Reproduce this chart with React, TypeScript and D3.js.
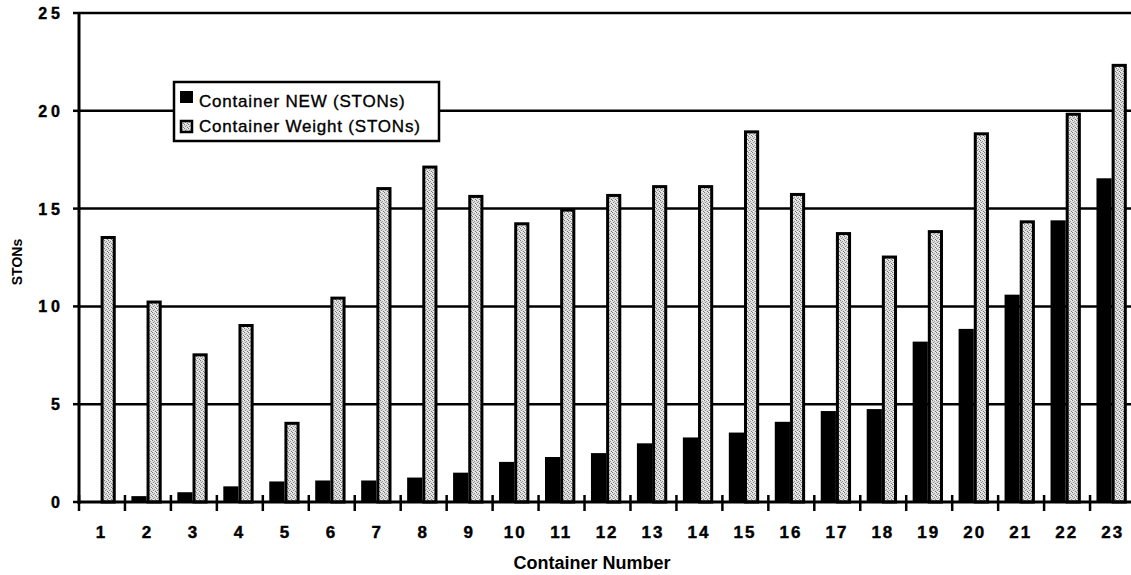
import * as d3 from "d3"

const CONTAINERS = ["1","2","3","4","5","6","7","8","9","10","11","12","13","14","15","16","17","18","19","20","21","22","23"]
const NEW_TONS = [0, 0.3, 0.5, 0.8, 1.05, 1.1, 1.1, 1.25, 1.5, 2.05, 2.3, 2.5, 3.0, 3.3, 3.55, 4.1, 4.65, 4.75, 8.2, 8.85, 10.6, 14.4, 16.55]
const WEIGHT_TONS = [13.6, 10.3, 7.6, 9.1, 4.1, 10.5, 16.1, 17.2, 15.7, 14.3, 15.0, 15.75, 16.2, 16.2, 19.0, 15.8, 13.8, 12.6, 13.9, 18.9, 14.4, 19.9, 22.4]
const SERIES = ["new", "weight"]
const Y_TICKS = [0, 5, 10, 15, 20, 25]

const W = 1131
const H = 575
const AXIS_X = 79
const PLOT_R = 1136
const Y0 = 502
const Y25 = 13

const FONT = "'Liberation Sans', Arial, Helvetica, sans-serif"

export default function App() {
  const x0 = d3.scaleBand<string>().domain(CONTAINERS).range([AXIS_X, PLOT_R]).paddingInner(0).paddingOuter(0)
  const bw = x0.bandwidth()
  const x1 = d3.scaleBand<string>().domain(SERIES).range([bw * 0.14, bw * 0.8])
  const y = d3.scaleLinear().domain([0, 25]).range([Y0, Y25])

  const pairMid = (c: string) => x0(c)! + bw * 0.47

  return (
    <svg
      width={W}
      height={H}
      style={{ position: "absolute", left: 0, top: 0, background: "#fff" }}
      fontFamily={FONT}
    >
      <defs>
        <pattern id="stipple" width="4" height="4" patternUnits="userSpaceOnUse">
          <rect width="4" height="4" fill="#dcdcdc" />
          <rect x="0" y="0" width="1" height="1" fill="#777" />
          <rect x="2" y="1" width="1" height="1" fill="#999" />
          <rect x="1" y="2" width="1" height="1" fill="#888" />
          <rect x="3" y="3" width="1" height="1" fill="#777" />
          <rect x="3" y="0" width="1" height="1" fill="#f4f4f4" />
          <rect x="1" y="3" width="1" height="1" fill="#f4f4f4" />
        </pattern>
      </defs>

      {/* gridlines */}
      {Y_TICKS.filter((t) => t > 0).map((t) => (
        <line key={t} x1={AXIS_X} x2={W} y1={y(t)} y2={y(t)} stroke="#000" strokeWidth={2.5} />
      ))}

      {/* bars */}
      {CONTAINERS.map((c, i) => {
        const bx = x0(c)!
        return (
          <g key={c}>
            {NEW_TONS[i] > 0 && (
              <rect
                x={bx + x1("new")!}
                y={y(NEW_TONS[i])}
                width={x1.bandwidth()}
                height={Y0 - y(NEW_TONS[i])}
                fill="#000"
              />
            )}
            <rect
              x={bx + x1("weight")! + 1.5}
              y={y(WEIGHT_TONS[i]) + 1.5}
              width={x1.bandwidth() - 3}
              height={Y0 - y(WEIGHT_TONS[i]) - 1.5}
              fill="url(#stipple)"
              stroke="#000"
              strokeWidth={3}
            />
          </g>
        )
      })}

      {/* y axis */}
      <line x1={AXIS_X} x2={AXIS_X} y1={Y25 - 1} y2={Y0 + 2} stroke="#000" strokeWidth={3} />
      {Y_TICKS.map((t) => (
        <g key={t}>
          <line x1={AXIS_X - 6} x2={AXIS_X} y1={y(t)} y2={y(t)} stroke="#000" strokeWidth={2.5} />
          <text
            x={64}
            y={y(t) + 6}
            textAnchor="end"
            fontSize={16}
            fontWeight="bold"
            letterSpacing={4}
            stroke="#000"
            strokeWidth={0.4}
          >
            {t}
          </text>
        </g>
      ))}

      {/* x axis */}
      <line x1={AXIS_X} x2={W} y1={Y0} y2={Y0} stroke="#000" strokeWidth={3} />
      {CONTAINERS.map((c) => (
        <line key={c} x1={x0(c)!} x2={x0(c)!} y1={Y0 - 7} y2={Y0 + 9} stroke="#000" strokeWidth={2.5} />
      ))}
      {CONTAINERS.map((c) => (
        <text
          key={c}
          x={pairMid(c) + 1}
          y={538}
          textAnchor="middle"
          fontSize={17}
          fontWeight="bold"
          letterSpacing={2}
          stroke="#000"
          strokeWidth={0.4}
        >
          {c}
        </text>
      ))}

      <text x={592} y={569} textAnchor="middle" fontSize={18} fontWeight="bold">
        Container Number
      </text>
      <text
        transform={`translate(22,262) rotate(-90)`}
        textAnchor="middle"
        fontSize={14}
        fontWeight="bold"
      >
        STONs
      </text>

      {/* legend */}
      <g>
        <rect x={174} y={82} width={265} height={59} fill="#fff" stroke="#000" strokeWidth={2.5} />
        <rect x={180} y={91} width={13} height={12} fill="#000" />
        <text x={199} y={107} fontSize={17} letterSpacing={0.8} stroke="#000" strokeWidth={0.35}>
          Container NEW (STONs)
        </text>
        <rect x={181} y={121} width={11} height={11} fill="url(#stipple)" stroke="#000" strokeWidth={2.5} />
        <text x={199} y={132} fontSize={17} letterSpacing={0.8} stroke="#000" strokeWidth={0.35}>
          Container Weight (STONs)
        </text>
      </g>
    </svg>
  )
}
